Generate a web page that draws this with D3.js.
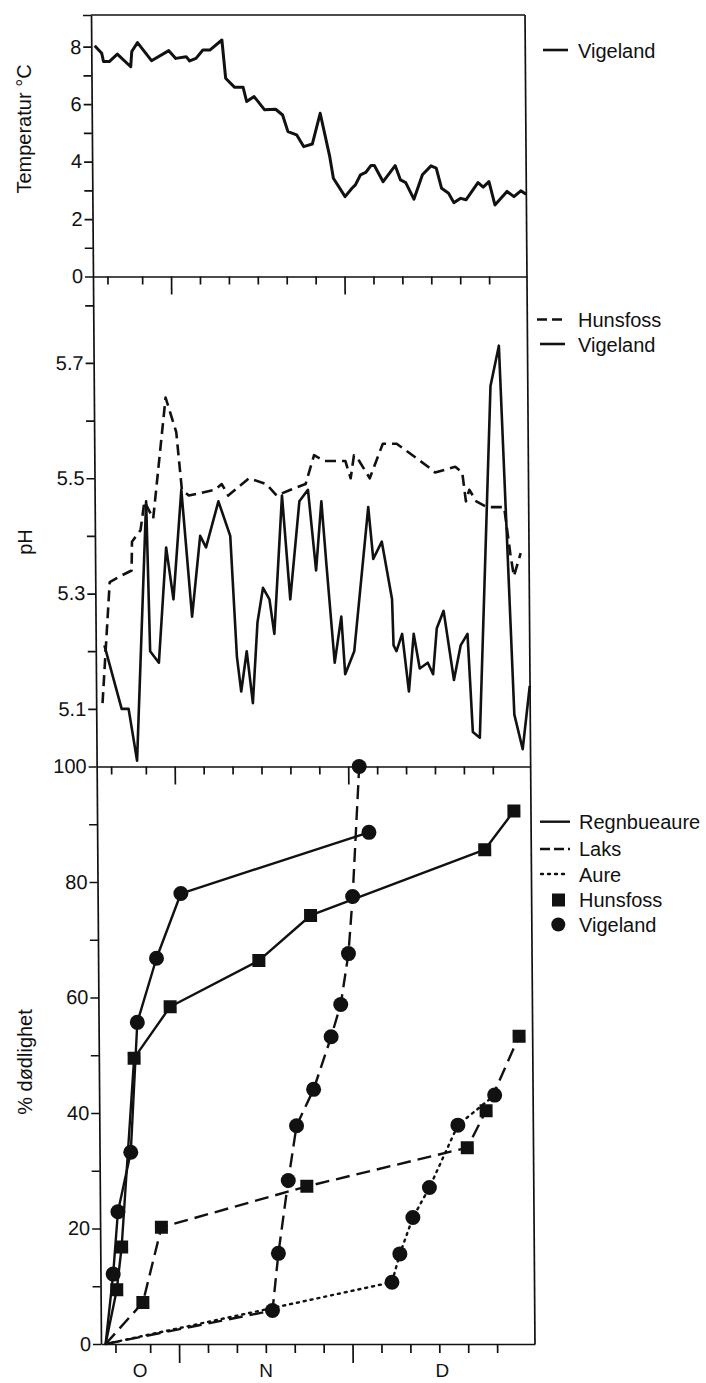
<!DOCTYPE html>
<html><head><meta charset="utf-8">
<script src="https://cdn.jsdelivr.net/npm/d3@7/dist/d3.min.js"></script>
<style>
html,body{margin:0;padding:0;background:#fff;}
text{font-family:"Liberation Sans",Arial,Helvetica,sans-serif;fill:#111;}
</style></head><body>
<svg id="c" width="706" height="1383"></svg>
<script>
// ---------- DATA (day numbers: Oct 1 = 0, Nov 1 = 31, Dec 1 = 61, Jan 1 = 92) ----------
const tempDays = [18.1,19.3,19.6,20.6,22.0,24.3,24.5,25.5,27.9,30.9,32.1,33.9,34.5,35.6,36.8,38.0,40.1,40.7,42.2,43.7,
  44.3,45.6,47.4,49.3,50.5,51.4,52.9,54.1,55.6,57.0,58.6,59.2,61.2,62.4,63.0,63.9,64.8,65.7,66.3,67.8,
  69.9,70.8,71.7,73.1,74.6,76.1,77.0,77.9,79.1,80.0,81.2,82.1,84.2,85.1,86.1,87.1,89.2,90.4,91.6,92.5];
const tempVigeland = [8.03,7.77,7.48,7.48,7.74,7.30,7.83,8.14,7.51,7.86,7.59,7.65,7.50,7.59,7.88,7.88,8.23,6.90,6.59,6.59,
  6.09,6.26,5.80,5.82,5.62,5.04,4.93,4.52,4.61,5.68,4.17,3.42,2.78,3.07,3.19,3.54,3.62,3.86,3.86,3.30,
  3.86,3.36,3.27,2.69,3.54,3.85,3.77,3.07,2.90,2.57,2.72,2.67,3.27,3.11,3.30,2.49,2.96,2.78,2.98,2.86];

const phHunsfossDays = [18.6,20.0,21.8,23.8,23.9,25.4,26.1,27.6,29.9,31.7,32.6,33.8,38.3,39.5,40.6,44.2,47.2,49.0,51.4,54.0,
  55.5,57.3,60.9,61.8,62.4,63.3,65.1,67.4,69.8,75.2,76.4,79.9,81.1,81.7,82.3,83.5,85.3,88.3,89.3,89.9,91.1];
const phHunsfoss = [5.11,5.32,5.33,5.34,5.39,5.41,5.46,5.43,5.64,5.58,5.48,5.47,5.48,5.49,5.47,5.50,5.49,5.47,5.48,5.49,
  5.54,5.53,5.53,5.50,5.54,5.53,5.50,5.56,5.56,5.52,5.51,5.52,5.51,5.46,5.48,5.46,5.45,5.45,5.37,5.33,5.37];

const phVigelandDays = [19.0,21.9,23.1,24.5,26.4,26.9,28.4,29.8,31.0,32.5,34.2,35.7,36.7,38.9,40.9,41.9,42.6,43.6,44.6,45.5,
  46.5,47.6,48.4,49.9,51.2,52.9,54.4,55.7,56.7,57.5,58.8,60.0,60.6,62.2,64.8,65.6,67.1,68.8,69.0,69.5,
  70.5,71.6,72.5,73.5,74.9,75.8,76.5,77.7,79.4,80.6,81.8,82.6,83.8,86.1,87.6,89.8,91.2,92.5];
const phVigeland = [5.21,5.10,5.10,5.01,5.46,5.20,5.18,5.38,5.29,5.48,5.26,5.40,5.38,5.46,5.40,5.19,5.13,5.20,5.11,5.25,
  5.31,5.29,5.23,5.47,5.29,5.46,5.48,5.34,5.46,5.35,5.18,5.26,5.16,5.20,5.45,5.36,5.39,5.29,5.21,5.20,
  5.23,5.13,5.23,5.17,5.18,5.16,5.24,5.27,5.15,5.21,5.23,5.06,5.05,5.66,5.73,5.09,5.03,5.14];

// % dødlighet
const regnVigDays = [18.3,19.7,20.6,22.9,24.2,27.6,31.9,64.5];
const regnVigPct  = [0,12.1,22.9,33.2,55.7,66.8,78.0,88.6];
const regnHunDays = [18.3,20.3,21.2,23.6,29.9,45.3,54.3,84.5,89.6];
const regnHunPct  = [0,9.4,16.8,49.5,58.4,66.4,74.2,85.6,92.3];
const laksHunDays = [18.3,24.8,28.1,53.3,81.1,84.4,90.2];
const laksHunPct  = [0,7.2,20.2,27.3,34.0,40.4,53.3];
const laksVigDays = [18.3,47.2,48.3,50.1,51.6,54.6,57.7,59.4,60.8,61.6,62.9];
const laksVigPct  = [0,5.8,15.7,28.3,37.8,44.1,53.2,58.8,67.6,77.5,100];
const aureVigDays = [18.3,67.9,69.3,71.6,74.5,79.5,85.9];
const aureVigPct  = [0,10.7,15.6,21.9,27.1,37.9,43.1];

// ticks / labels
const tempTicks = [0,1,2,3,4,5,6,7,8,9.1];
const tempLabels = [0,2,4,6,8];
const phTicks = [5.1,5.2,5.3,5.4,5.5,5.6,5.7,5.8];
const phLabels = [5.1,5.3,5.5,5.7];
const pctTicks = [0,10,20,30,40,50,60,70,80,90,100];
const pctLabels = [0,20,40,60,80,100];
const dayTicks = [20,26,31,36,41,46,51,56,61,66,71,76,81,86];
const monthStarts = [31,61];
const monthNames = ["O","N","D"];
const monthBounds = [0,31,61,92];

// ---------- LAYOUT ----------
const svg = d3.select("#c");
const K = 0.0075, Y0 = 680;   // slight lean of the scanned figure
const g = svg.append("g").attr("transform", `matrix(1,0,${K},1,${-K*Y0},0)`);
const INK = "#111";

const x  = d3.scaleLinear().domain([17.5, 92.55]).range([96, 530]);
const yT = d3.scaleLinear().domain([0, 9.1]).range([276.5, 15]);
const yP = d3.scaleLinear().domain([5.0, 5.85]).range([766.5, 276.5]);
const yM = d3.scaleLinear().domain([0, 100]).range([1344, 766.5]);

function styleAxis(sel){
  sel.selectAll("path").attr("stroke", INK).attr("stroke-width", 1.7);
  sel.selectAll("line").attr("stroke", INK).attr("stroke-width", 1.7);
  sel.selectAll("text").attr("font-size", 20).attr("fill", INK)
     .style("font-family", '"Liberation Sans",Arial,sans-serif');
}

// Y axes
function yAxis(scale, ticks, labels, fmt){
  const a = d3.axisLeft(scale).tickValues(ticks).tickSize(8).tickSizeOuter(0).tickPadding(2)
    .tickFormat(d => labels.some(l => Math.abs(l-d) < 1e-9) ? fmt(d) : "");
  const s = g.append("g").attr("transform", `translate(${x.range()[0]},0)`).call(a);
  styleAxis(s);
}
yAxis(yT, tempTicks, tempLabels, d3.format("d"));
yAxis(yP, phTicks, phLabels, d3.format(".1f"));
yAxis(yM, pctTicks, pctLabels, d3.format("d"));

// top border and right border
g.append("line").attr("x1", x.range()[0]).attr("x2", x.range()[1])
  .attr("y1", yT.range()[1]).attr("y2", yT.range()[1]).attr("stroke", INK).attr("stroke-width", 1.7);
g.append("line").attr("x1", x.range()[1]).attr("x2", x.range()[1])
  .attr("y1", yT.range()[1]).attr("y2", yM.range()[0]).attr("stroke", INK).attr("stroke-width", 1.7);

// X axes (ticks at panel boundaries, pointing down)
function xAxis(yPos, shortLen, longLen){
  const a = d3.axisBottom(x).tickValues(dayTicks).tickSize(shortLen).tickSizeOuter(0).tickFormat("");
  const s = g.append("g").attr("transform", `translate(0,${yPos})`).call(a);
  s.selectAll(".tick line").attr("y2", d => monthStarts.includes(d) ? longLen : shortLen);
  styleAxis(s);
}
xAxis(yT.range()[0], 8, 18);
xAxis(yP.range()[0], 8, 18);
xAxis(yM.range()[0], 9, 19);

// month labels
monthNames.forEach((m, i) => {
  const a = Math.max(monthBounds[i], x.domain()[0]);
  const b = Math.min(monthBounds[i+1], x.domain()[1]);
  g.append("text").attr("x", x((a+b)/2)).attr("y", yM.range()[0] + 33)
    .attr("text-anchor", "middle").attr("font-size", 19).text(m);
});

// ---------- DATA MARKS ----------
function drawLine(days, vals, yScale, width, dash){
  const pts = days.map((d, i) => [d, vals[i]]);
  g.append("path").datum(pts)
    .attr("d", d3.line().x(p => x(p[0])).y(p => yScale(p[1])))
    .attr("fill", "none").attr("stroke", INK).attr("stroke-width", width)
    .attr("stroke-linejoin", "round").attr("stroke-dasharray", dash || null)
    .attr("stroke-linecap", dash === "2,5" ? "round" : "butt");
}

drawLine(tempDays, tempVigeland, yT, 3);
drawLine(phHunsfossDays, phHunsfoss, yP, 2.6, "11,6");
drawLine(phVigelandDays, phVigeland, yP, 2.6);

const mort = [
  {days: regnVigDays, pct: regnVigPct, dash: null, mark: "circle"},
  {days: regnHunDays, pct: regnHunPct, dash: null, mark: "square"},
  {days: laksHunDays, pct: laksHunPct, dash: "14,7", mark: "square"},
  {days: laksVigDays, pct: laksVigPct, dash: "14,7", mark: "circle"},
  {days: aureVigDays, pct: aureVigPct, dash: "2,5", mark: "circle"}
];
mort.forEach(s => drawLine(s.days, s.pct, yM, 2.4, s.dash));
mort.forEach(s => {
  const pts = s.days.map((d, i) => [d, s.pct[i]]).filter(p => p[1] > 0);
  if (s.mark === "circle") {
    g.selectAll(null).data(pts).enter().append("circle")
      .attr("cx", p => x(p[0])).attr("cy", p => yM(p[1])).attr("r", 7.5).attr("fill", INK);
  } else {
    g.selectAll(null).data(pts).enter().append("rect")
      .attr("x", p => x(p[0]) - 6.5).attr("y", p => yM(p[1]) - 6.5)
      .attr("width", 13).attr("height", 13).attr("fill", INK);
  }
});

// ---------- AXIS TITLES ----------
function yTitle(txt, xb, yc){
  svg.append("text").attr("transform", `translate(${xb},${yc}) rotate(-90)`)
    .attr("text-anchor", "middle").attr("font-size", 20).text(txt);
}
yTitle("Temperatur °C", 31, 129);
yTitle("pH", 32, 542);
yTitle("% dødlighet", 32, 1062);

// ---------- LEGENDS ----------
const L = svg.append("g");
function legLine(x1, x2, y, dash, w){
  L.append("line").attr("x1", x1).attr("x2", x2).attr("y1", y).attr("y2", y)
    .attr("stroke", INK).attr("stroke-width", w || 2.6).attr("stroke-dasharray", dash || null)
    .attr("stroke-linecap", dash === "2,5" ? "round" : "butt");
}
function legText(t, xx, y){ L.append("text").attr("x", xx).attr("y", y).attr("font-size", 20).text(t); }

legLine(543, 568, 50); legText("Vigeland", 578, 57.5);

legLine(537, 562, 319.5, "10,5"); legText("Hunsfoss", 578, 326.5);
legLine(540, 565, 344); legText("Vigeland", 578, 351.5);

const legRows = ["Regnbueaure","Laks","Aure","Hunsfoss","Vigeland"];
const legY = [829, 855.5, 881.5, 907, 932];
legLine(540, 570, 821.7, null, 2.4);
legLine(540, 570, 849, "10,4", 2.4);
legLine(541, 566, 874, "2,5", 2.4);
L.append("rect").attr("x", 552).attr("y", 893.5).attr("width", 13).attr("height", 13).attr("fill", INK);
L.append("circle").attr("cx", 558.3).attr("cy", 924.5).attr("r", 7).attr("fill", INK);
legRows.forEach((t, i) => legText(t, 579, legY[i]));
</script>
</body></html>
